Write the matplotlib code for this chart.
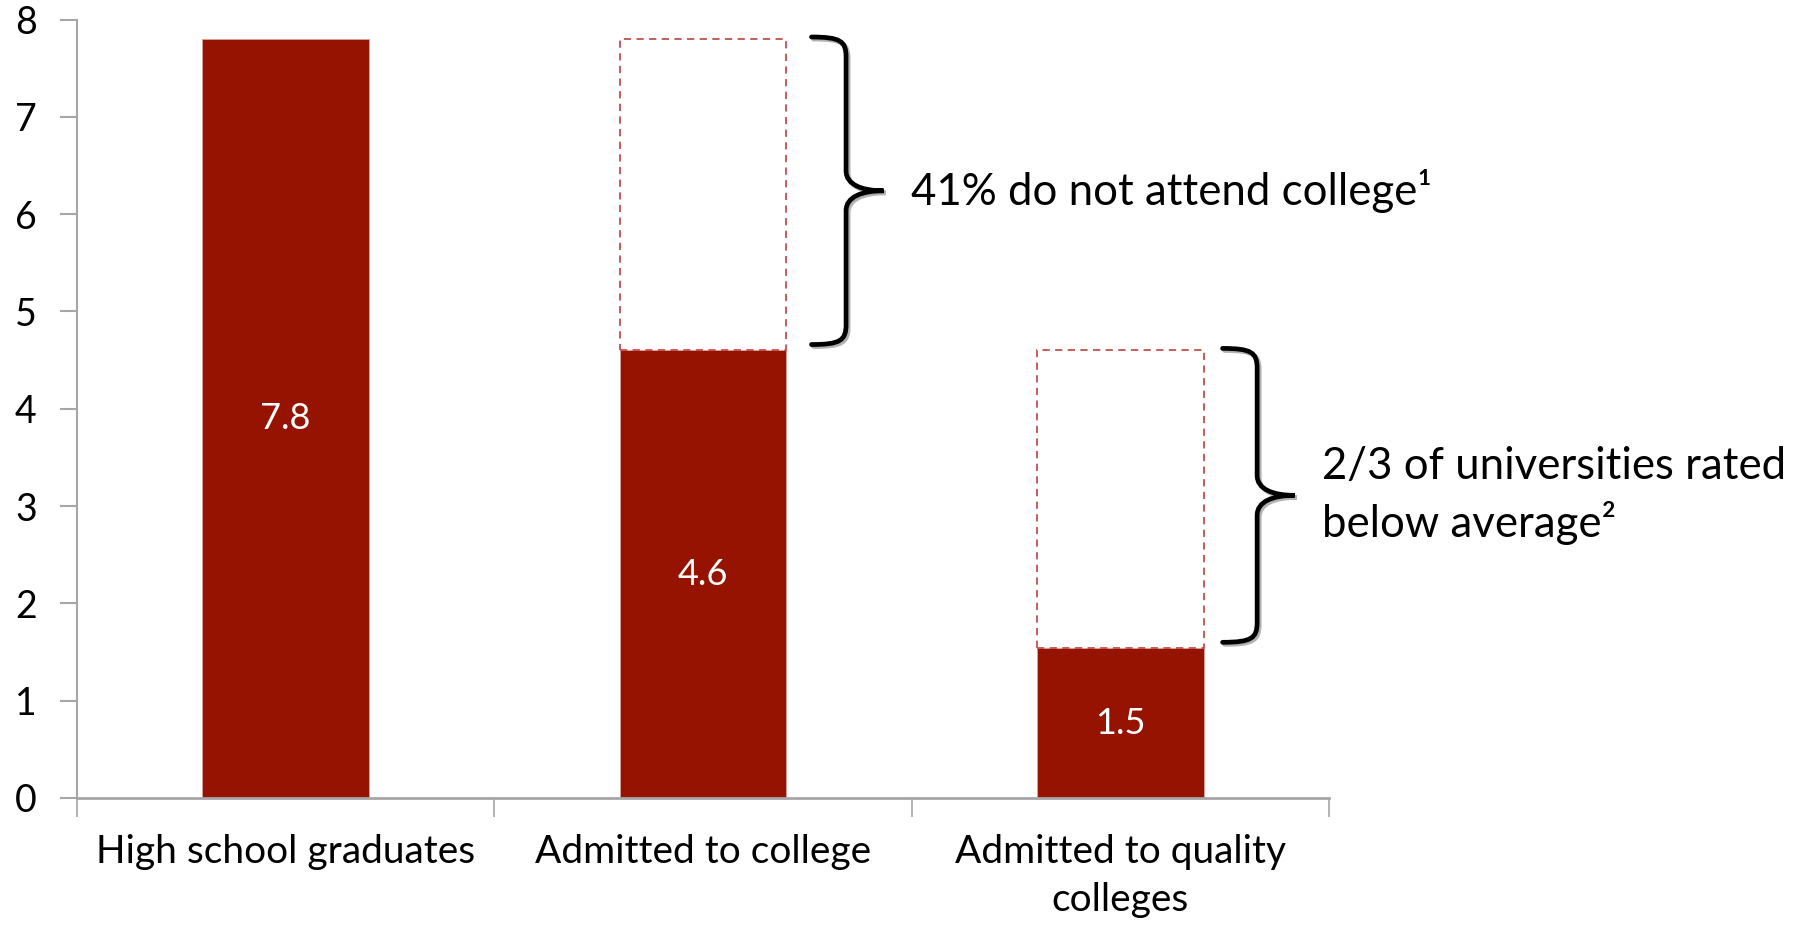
import numpy as np
import matplotlib
matplotlib.use("Agg")
import matplotlib.pyplot as plt
from matplotlib.path import Path
from matplotlib.patches import PathPatch
import matplotlib.patheffects as pe

plt.rcParams["font.family"] = ["Lato", "DejaVu Sans"]

categories = ["High school graduates", "Admitted to college", "Admitted to quality\ncolleges"]
values = [7.8, 4.6, 1.54]
ghost_tops = [None, 7.8, 4.6]  # dashed outline = previous stage
notes = ["41% do not attend college\u00b9", "2/3 of universities rated\nbelow average\u00b2"]

BAR = "#951300"
DASH = "#c0504d"
GRAY = "#a6a6a6"

W, H = 1803, 926
fig = plt.figure(figsize=(W / 100, H / 100), dpi=100)
ax = fig.add_axes([77 / W, 1 - 798 / H, (1329 - 77) / W, (798 - 19.5) / H])

x = np.arange(len(categories))
bw = 0.4
ax.bar(x, values, width=bw, color=BAR, edgecolor="#d9a5a0", linewidth=0.6, zorder=2)
for xi, v in zip(x, values):
    ax.text(xi, v / 2, f"{v:.1f}", color="white", ha="center", va="center", fontsize=26)

for xi, v, g in zip(x, values, ghost_tops):
    if g is None:
        continue
    ax.bar(xi, g - v, bottom=v, width=bw, fill=False, edgecolor=DASH,
           linestyle=(0, (4, 3)), linewidth=1.3, zorder=2)

ax.set_xlim(-0.5, len(categories) - 0.5)
ax.set_ylim(0, 8)
ax.set_yticks(range(0, 9))
ax.tick_params(axis="y", labelsize=27, length=12, width=1.5, color=GRAY, pad=17)
ax.set_xticks(x)
ax.set_xticklabels(categories, fontsize=28, linespacing=1.42)
ax.set_xticks(np.arange(-0.5, len(categories)), minor=True)
ax.tick_params(axis="x", which="major", length=0, pad=26)
ax.tick_params(axis="x", which="minor", length=14, width=1.2, color=GRAY)
for s in ["top", "right"]:
    ax.spines[s].set_visible(False)
ax.spines["left"].set_color(GRAY)
ax.spines["left"].set_linewidth(1.5)
ax.spines["bottom"].set_color(GRAY)
ax.spines["bottom"].set_linewidth(2)

# px -> data scale
sx = 3 / (1329 - 77)
sy = 8 / (798 - 19.5)


def brace(x0, ytop, ybot, width_px=72, r_px=20):
    w = width_px * sx
    xs = x0 + 0.48 * w
    r = r_px * sy
    ym = (ytop + ybot) / 2
    verts = [
        (x0, ytop),
        (x0 + 0.4 * w, ytop), (xs, ytop - 0.2 * r), (xs, ytop - r),
        (xs, ym + r),
        (xs, ym + 0.3 * r), (x0 + 0.7 * w, ym), (x0 + w, ym),
        (x0 + 0.7 * w, ym), (xs, ym - 0.3 * r), (xs, ym - r),
        (xs, ybot + r),
        (xs, ybot + 0.2 * r), (x0 + 0.4 * w, ybot), (x0, ybot),
    ]
    codes = [Path.MOVETO, Path.CURVE4, Path.CURVE4, Path.CURVE4, Path.LINETO,
             Path.CURVE4, Path.CURVE4, Path.CURVE4,
             Path.CURVE4, Path.CURVE4, Path.CURVE4, Path.LINETO,
             Path.CURVE4, Path.CURVE4, Path.CURVE4]
    p = PathPatch(Path(verts, codes), fill=False, lw=3.4, edgecolor="black",
                  capstyle="round", clip_on=False, zorder=3,
                  path_effects=[pe.SimpleLineShadow(offset=(1.5, -1.5), alpha=0.3),
                                pe.Normal()])
    ax.add_patch(p)
    return x0 + w, ym


for i, note in zip([1, 2], notes):
    gap = 0.06 if i == 1 else 0.045
    tip_x, tip_y = brace(x[i] + bw / 2 + gap, ghost_tops[i] + 0.02, values[i] + 0.06)
    ax.text(tip_x + 0.065, tip_y, note, fontsize=31.5, ha="left", va="center",
            linespacing=1.37, clip_on=False)

fig.savefig("out.png", dpi=100)
